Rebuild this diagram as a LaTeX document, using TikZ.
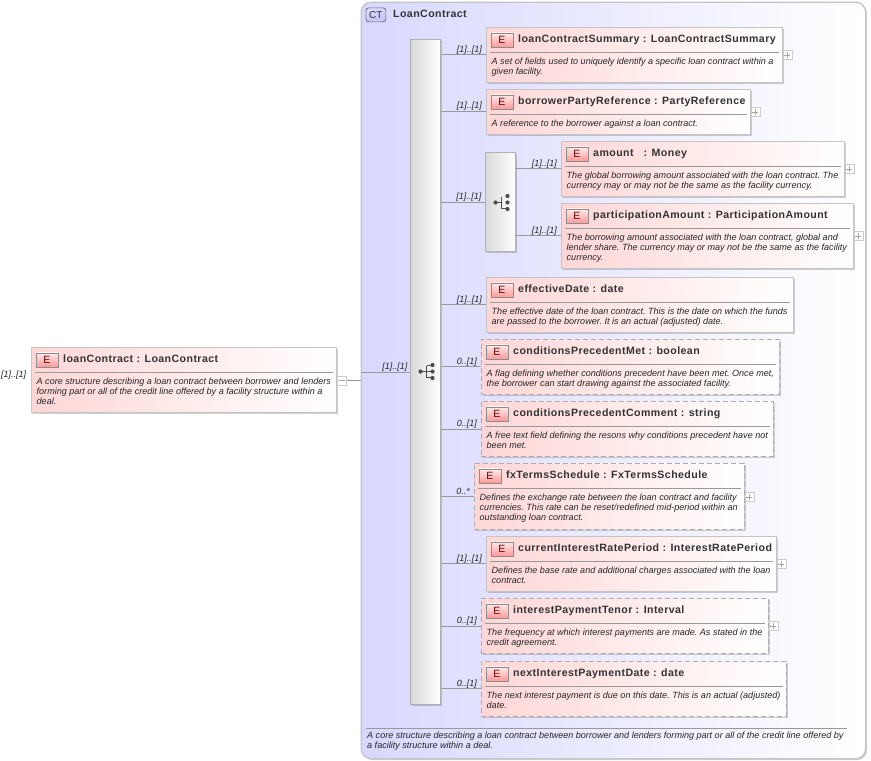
\documentclass[tikz,border=0pt]{standalone}
\usepackage{fontspec}
\setmainfont{Liberation Sans}
\newfontfamily\titlefont{Liberation Sans}[LetterSpace=4.0]
\usetikzlibrary{shadows,calc}
\definecolor{elemPink}{HTML}{FFD6D6}
\definecolor{ctBlue}{HTML}{D8D8FF}
\definecolor{ctBadge}{HTML}{C4C4F8}
\definecolor{lineGray}{HTML}{989898}
\definecolor{boxGray}{HTML}{C4C4C4}
\definecolor{titleInk}{HTML}{333333}
\tikzset{
  x=1pt,y=-1pt,
  elembox/.style={anchor=north west,inner sep=0pt,draw=boxGray,line width=1.3pt,left color=elemPink,right color=white,
     drop shadow={shadow xshift=1.5pt,shadow yshift=-1.5pt,fill=black,opacity=.18}},
  solidbox/.style={elembox},
  optbox/.style={elembox,draw=black!32,dash pattern=on 5pt off 3pt},
  badge/.style={anchor=north west,inner sep=0pt,minimum width=22pt,minimum height=14pt,draw=black!45,line width=.7pt,
     top color=red!8!white,bottom color=red!40!white,text=red!40!black,font=\fontsize{10.5}{10.5}\selectfont},
  elemtitle/.style={anchor=base west,inner sep=0pt,text=titleInk,font=\fontsize{10.6}{12}\selectfont\titlefont\bfseries},
  elemdesc/.style={anchor=north west,inner sep=0pt,align=left,text=black!85,font=\fontsize{9.05}{10}\selectfont\itshape\frenchspacing},
  seprule/.style={draw=black!40,line width=.8pt},
  wire/.style={draw=lineGray,line width=.9pt},
  mult/.style={anchor=base east,inner sep=0pt,text=black!85,font=\fontsize{9}{10}\selectfont\itshape},
  pm/.style={anchor=north west,inner sep=0pt,minimum width=9pt,minimum height=9pt,draw=black!20,line width=.8pt,fill=white},
  pmmark/.style={draw=black!35,line width=.7pt},
  groupbox/.style={anchor=north west,inner sep=0pt,draw=black!30,line width=1.1pt,left color=black!15,right color=white,
     drop shadow={shadow xshift=1.5pt,shadow yshift=-1.5pt,fill=black,opacity=.18}},
  icon/.style={draw=black!70,line width=1pt},
  icondot/.style={fill=black!70,draw=none},
}
\newcommand{\elem}[8]{% name,x1,y1,x2,y2,style,title,desc
  \pgfmathsetmacro{\bw}{#4-#2-1}\pgfmathsetmacro{\bh}{#5-#3-1}
  \begin{scope}[shift={(#2,#3)}]
    \node[#6,minimum width=\bw pt,minimum height=\bh pt] (#1) at (0,0) {};
    \node[badge] (#1-badge) at (5,6) {E};
    \node[elemtitle] (#1-title) at (32.5,16) {#7};
    \draw[seprule] (4,26) -- (\bw-3,26);
    \node[elemdesc] (#1-desc) at (6,31) {\rule{0pt}{7pt}#8};
  \end{scope}}
\newcommand{\plusbox}[3]{% name,x,y
  \node[pm] (#1) at (#2,#3) {};
  \draw[pmmark] ($(#1.center)+(-3,0)$) -- ($(#1.center)+(3,0)$);
  \draw[pmmark] ($(#1.center)+(0,-3)$) -- ($(#1.center)+(0,3)$);}
\newcommand{\link}[5]{% from,to,y,label,name
  \coordinate (#5) at (0,#3);
  \draw[wire] (#1.east |- #5) -- (#2.west |- #5);
  \node[mult] (#5-label) at ($(#2.west |- #5)+(-3.5,-2.5)$) {#4};}
\begin{document}
\begin{tikzpicture}
\useasboundingbox (0.5,0.5) rectangle (871.5,761.5);
\node[anchor=north west,inner sep=0pt,minimum width=504.5pt,minimum height=756.5pt,rounded corners=10pt,draw=boxGray,line width=1.3pt,left color=ctBlue,right color=white,
  drop shadow={shadow xshift=1.5pt,shadow yshift=-1.5pt,fill=black,opacity=.18}] (ct) at (361,2) {};
\node[anchor=north west,inner sep=0pt,minimum width=20pt,minimum height=14pt,rounded corners=3pt,draw=black!60,line width=.7pt,top color=ctBlue,bottom color=ctBadge,text=titleInk,font=\fontsize{10}{10}\selectfont] (ctbadge) at (366,8) {CT};
\node[elemtitle] (cttitle) at (393.5,17.5) {LoanContract};
\draw[seprule] (366,728.5) -- (847,728.5);
\node[elemdesc] (ctdesc) at (367.5,732) {\rule{0pt}{7pt}A core structure describing a loan contract between borrower and lenders forming part or all of the credit line offered by\\a facility structure within a deal.};

% root
\elem{root}{31}{347}{337}{413}{solidbox}{loanContract : LoanContract}{A core structure describing a loan contract between borrower and lenders\\forming part or all of the credit line offered by a facility structure within a\\deal.}
\node[mult,anchor=base west] (rootmult) at (1.5,378) {[1]..[1]};
\node[pm] (rootpm) at (337.5,376) {};
\draw[pmmark] ($(rootpm.center)+(-3,0)$) -- ($(rootpm.center)+(3,0)$);

% bars
\node[groupbox,minimum width=29.5pt,minimum height=664.5pt] (bar) at (410.5,39.5) {};
\node[groupbox,minimum width=29.5pt,minimum height=98.5pt] (choice) at (485.5,152.5) {};

% elements
\elem{e1}{486}{27}{783}{83}{solidbox}{loanContractSummary : LoanContractSummary}{A set of fields used to uniquely identify a specific loan contract within a\\given facility.}
\plusbox{p1}{783}{50.5}
\elem{e2}{486}{89}{751}{135}{solidbox}{borrowerPartyReference : PartyReference}{A reference to the borrower against a loan contract.}
\plusbox{p2}{751}{107.5}
\elem{e3}{561}{141}{845}{197}{solidbox}{amount\ \ \ : Money}{The global borrowing amount associated with the loan contract. The\\currency may or may not be the same as the facility currency.}
\plusbox{p3}{845}{164.5}
\elem{e4}{561}{203}{854}{269}{solidbox}{participationAmount : ParticipationAmount}{The borrowing amount associated with the loan contract, global and\\lender share. The currency may or may not be the same as the facility\\currency.}
\plusbox{p4}{854}{231.5}
\elem{e5}{486}{277}{794}{333}{solidbox}{effectiveDate : date}{The effective date of the loan contract. This is the date on which the funds\\are passed to the borrower. It is an actual (adjusted) date.}
\elem{e6}{481}{339}{780}{395}{optbox}{conditionsPrecedentMet : boolean}{A flag defining whether conditions precedent have been met. Once met,\\the borrower can start drawing against the associated facility.}
\elem{e7}{481}{401}{774}{457}{optbox}{conditionsPrecedentComment : string}{A free text field defining the resons why conditions precedent have not\\been met.}
\elem{e8}{474}{463}{745}{530}{optbox}{fxTermsSchedule : FxTermsSchedule}{Defines the exchange rate between the loan contract and facility\\currencies. This rate can be reset/redefined mid-period within an\\outstanding loan contract.}
\plusbox{p8}{745}{492.5}
\elem{e9}{486}{536}{777}{592}{solidbox}{currentInterestRatePeriod : InterestRatePeriod}{Defines the base rate and additional charges associated with the loan\\contract.}
\plusbox{p9}{777}{559.5}
\elem{e10}{481}{598}{769}{654}{optbox}{interestPaymentTenor : Interval}{The frequency at which interest payments are made. As stated in the\\credit agreement.}
\plusbox{p10}{769}{621.5}
\elem{e11}{481}{661}{787}{717}{optbox}{nextInterestPaymentDate : date}{The next interest payment is due on this date. This is an actual (adjusted)\\date.}

% connectors
\draw[wire] (rootpm.east) -- (rootpm.east -| ct.west);
\coordinate (r0) at (0,372.5);
\draw[wire] (ct.west |- r0) -- (bar.west |- r0);
\node[mult] (r0-label) at ($(bar.west |- r0)+(-2.5,-2.5)$) {[1]..[1]};
\link{bar}{e1}{55}{[1]..[1]}{r1}
\link{bar}{e2}{111.5}{[1]..[1]}{r2}
\link{bar}{choice}{202.5}{[1]..[1]}{r3}
\link{choice}{e3}{169}{[1]..[1]}{r4}
\link{choice}{e4}{236}{[1]..[1]}{r5}
\link{bar}{e5}{305}{[1]..[1]}{r6}
\link{bar}{e6}{367}{0..[1]}{r7}
\link{bar}{e7}{429.5}{0..[1]}{r8}
\link{bar}{e8}{497}{0..*}{r9}
\link{bar}{e9}{564}{[1]..[1]}{r10}
\link{bar}{e10}{626.5}{0..[1]}{r11}
\link{bar}{e11}{689}{0..[1]}{r12}

% icons
\begin{scope}[shift={(421,372)}]
  \fill[icondot] (0,0) circle (2.1);
  \draw[icon] (0,0) -- (12,0) (6,-6) -- (6,6) (6,-6) -- (12,-6) (6,6) -- (12,6);
  \fill[icondot] (12,-6.5) circle (2.1) (12,0) circle (2.1) (12,6.5) circle (2.1);
\end{scope}
\begin{scope}[shift={(496,203)}]
  \fill[icondot] (0,0) circle (2.1);
  \draw[icon] (0,0) -- (5.5,0) (5.5,-6) -- (5.5,6) -- (12,6);
  \fill[icondot] (12,-6.5) circle (2.1) (12,0) circle (2.1) (12,6.5) circle (2.1);
\end{scope}
\end{tikzpicture}
\end{document}
